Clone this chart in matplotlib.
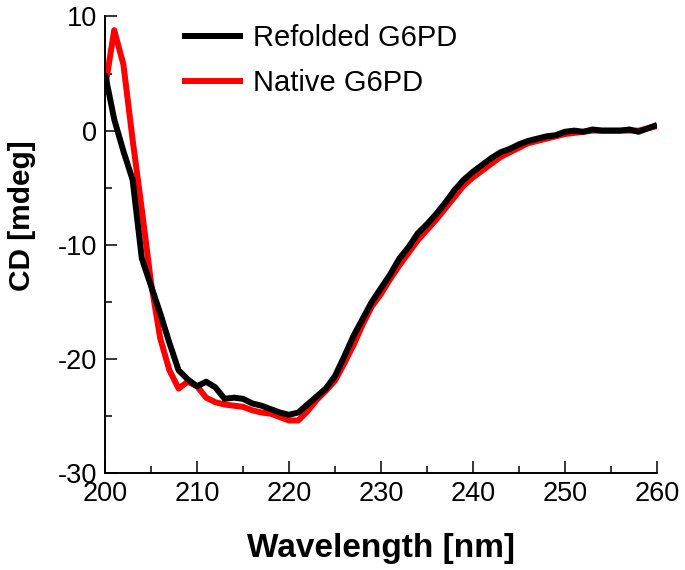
import matplotlib
matplotlib.use("Agg")
import matplotlib.pyplot as plt
from matplotlib.ticker import MultipleLocator

plt.rcParams['font.family'] = ['Liberation Sans', 'DejaVu Sans']
plt.rcParams['axes.unicode_minus'] = False

wavelength = list(range(200, 261))

refolded = [5.0, 1.0, -1.8, -4.3, -11.2, -13.6, -16.0, -18.6, -21.0, -21.8,
            -22.4, -22.0, -22.5, -23.5, -23.4, -23.5, -23.9, -24.1, -24.4, -24.7,
            -24.9, -24.7, -24.0, -23.3, -22.6, -21.5, -19.8, -18.0, -16.5, -15.0,
            -13.8, -12.6, -11.2, -10.2, -9.0, -8.2, -7.3, -6.3, -5.2, -4.3,
            -3.6, -3.0, -2.4, -1.9, -1.6, -1.2, -0.9, -0.7, -0.5, -0.4,
            -0.1, 0.0, -0.1, 0.1, 0.0, 0.0, 0.0, 0.1, -0.1, 0.2,
            0.5]

native = [3.7, 8.8, 5.8, -0.8, -6.9, -13.3, -18.2, -21.0, -22.6, -22.0,
          -22.4, -23.4, -23.8, -24.0, -24.1, -24.2, -24.5, -24.7, -24.8, -25.1,
          -25.4, -25.4, -24.6, -23.6, -22.8, -21.9, -20.4, -18.8, -17.0, -15.4,
          -14.3, -13.0, -11.8, -10.7, -9.6, -8.7, -7.8, -6.8, -5.8, -4.8,
          -4.1, -3.5, -2.9, -2.3, -1.9, -1.5, -1.1, -0.9, -0.7, -0.5,
          -0.3, -0.2, -0.1, 0.0, 0.0, 0.0, 0.0, 0.0, 0.0, 0.2,
          0.4]

x_ticks = [200, 210, 220, 230, 240, 250, 260]
y_ticks = [-30, -20, -10, 0, 10]

fig = plt.figure(figsize=(6.85, 5.70), dpi=100)
ax = fig.add_axes([105/685, 1-473/570, 552/685, (473-16.5)/570])

l_nat, = ax.plot(wavelength, native, color='#ff0000', lw=4.3, label='Native G6PD',
                 solid_joinstyle='round', solid_capstyle='butt')
l_ref, = ax.plot(wavelength, refolded, color='black', lw=4.3, label='Refolded G6PD',
                 solid_joinstyle='round', solid_capstyle='butt')

ax.set_xlim(200, 260)
ax.set_ylim(-30, 10)
ax.set_xticks(x_ticks)
ax.set_yticks(y_ticks)
ax.xaxis.set_minor_locator(MultipleLocator(5))
ax.yaxis.set_minor_locator(MultipleLocator(5))
ax.tick_params(which='major', direction='in', length=8.6, width=1.1,
               labelsize=19.5, pad=5.5)
ax.tick_params(which='minor', direction='in', length=5, width=1.1)
for s in ['top', 'right']:
    ax.spines[s].set_visible(False)
for s in ['left', 'bottom']:
    ax.spines[s].set_linewidth(1.4)

leg = ax.legend(handles=[l_ref, l_nat], loc='upper left',
                bbox_to_anchor=((182-105)/552, 1-(24.5-16.5)/456.5),
                frameon=False, fontsize=21, borderpad=0, borderaxespad=0,
                handlelength=2.1, handletextpad=0.35, labelspacing=0.56)

fig.text(22/685, 1-216/570, 'CD [mdeg]', rotation=90, ha='center', va='center',
         fontsize=21.5, fontweight='bold')
fig.text(381/685, 1-549/570, 'Wavelength [nm]', ha='center', va='center',
         fontsize=24, fontweight='bold')

fig.savefig('out.png', dpi=100)
